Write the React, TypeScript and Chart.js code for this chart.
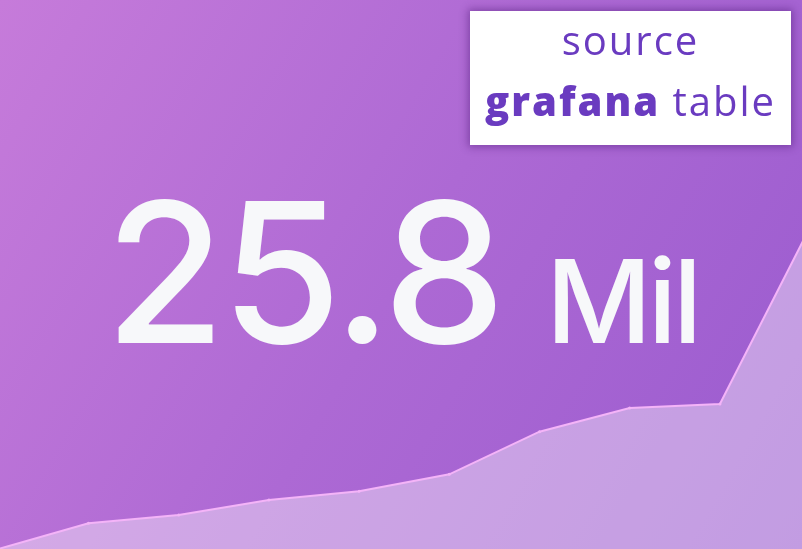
import { useEffect, useRef } from 'react'
import Chart from 'chart.js/auto'

// sparkline samples (millions), last one is the shown stat
const sampleIndex = [0, 1, 2, 3, 4, 5, 6, 7, 8, 9]
const valuesMil = [4.2, 5.92, 6.48, 7.49, 8.07, 9.21, 12.07, 13.66, 13.93, 25.8]
const statValue = '25.8'
const statUnit = 'Mil'
const sourceLine = 'source'
const sourceBold = 'grafana'
const sourceRest = 'table'

export default function App() {
  const canvasRef = useRef<HTMLCanvasElement>(null)
  const chartRef = useRef<Chart | null>(null)

  useEffect(() => {
    document.body.style.margin = '0'
    if (!canvasRef.current) return
    const ctx = canvasRef.current.getContext('2d')
    if (!ctx) return

    if (chartRef.current) chartRef.current.destroy()

    chartRef.current = new Chart(ctx, {
      type: 'line',
      data: {
        datasets: [
          {
            data: sampleIndex.map((x, i) => ({ x, y: valuesMil[i] })),
            borderColor: '#f4b4f8',
            borderWidth: 2,
            pointRadius: 1.5,
            pointBackgroundColor: '#f4b4f8',
            pointBorderWidth: 0,
            backgroundColor: 'rgba(255,255,255,0.4)',
            fill: 'start',
            tension: 0,
          },
        ],
      },
      options: {
        animation: false,
        responsive: true,
        maintainAspectRatio: false,
        layout: { padding: 0, autoPadding: false },
        plugins: {
          legend: { display: false },
          tooltip: { enabled: false },
        },
        scales: {
          x: { type: 'linear', display: false, min: 0.019, max: 8.91 },
          y: { display: false, min: 4.2, max: 41.03 },
        },
      },
    })

    return () => {
      if (chartRef.current) {
        chartRef.current.destroy()
        chartRef.current = null
      }
    }
  }, [])

  return (
    <div
      style={{
        position: 'fixed',
        left: 0,
        top: 0,
        width: 802,
        height: 549,
        overflow: 'hidden',
        background: 'linear-gradient(120deg, #c67bda 0%, #ad69d4 50%, #9a5bcf 100%)',
        fontFamily: 'Inter, sans-serif',
      }}
    >
      <div style={{ position: 'absolute', inset: 0 }}>
        <canvas ref={canvasRef} />
      </div>
      <div
        style={{
          position: 'absolute',
          left: 105,
          top: 175,
          fontSize: 195,
          fontWeight: 500,
          letterSpacing: -4,
          lineHeight: 1,
          color: '#f7f8fa',
          whiteSpace: 'nowrap',
        }}
      >
        {statValue}
      </div>
      <div
        style={{
          position: 'absolute',
          left: 546,
          top: 243,
          fontSize: 116,
          fontWeight: 500,
          letterSpacing: -4,
          lineHeight: 1,
          color: '#f7f8fa',
          whiteSpace: 'nowrap',
        }}
      >
        {statUnit}
      </div>
      <div
        style={{
          position: 'absolute',
          left: 470,
          top: 11,
          width: 321,
          height: 134,
          background: '#ffffff',
          boxShadow: '0 0 8px 2px rgba(70,20,110,0.45)',
          color: '#6a3bc0',
          fontFamily: '"Open Sans", sans-serif',
          textAlign: 'center',
        }}
      >
        <div style={{ position: 'absolute', left: 0, right: 0, top: 5, fontSize: 40, letterSpacing: 2, lineHeight: '48px' }}>
          {sourceLine}
        </div>
        <div
          style={{
            position: 'absolute',
            left: 0,
            right: 0,
            top: 66,
            fontSize: 40,
            letterSpacing: 2,
            lineHeight: '48px',
            whiteSpace: 'nowrap',
          }}
        >
          <span style={{ fontWeight: 800 }}>{sourceBold}</span> {sourceRest}
        </div>
      </div>
    </div>
  )
}
